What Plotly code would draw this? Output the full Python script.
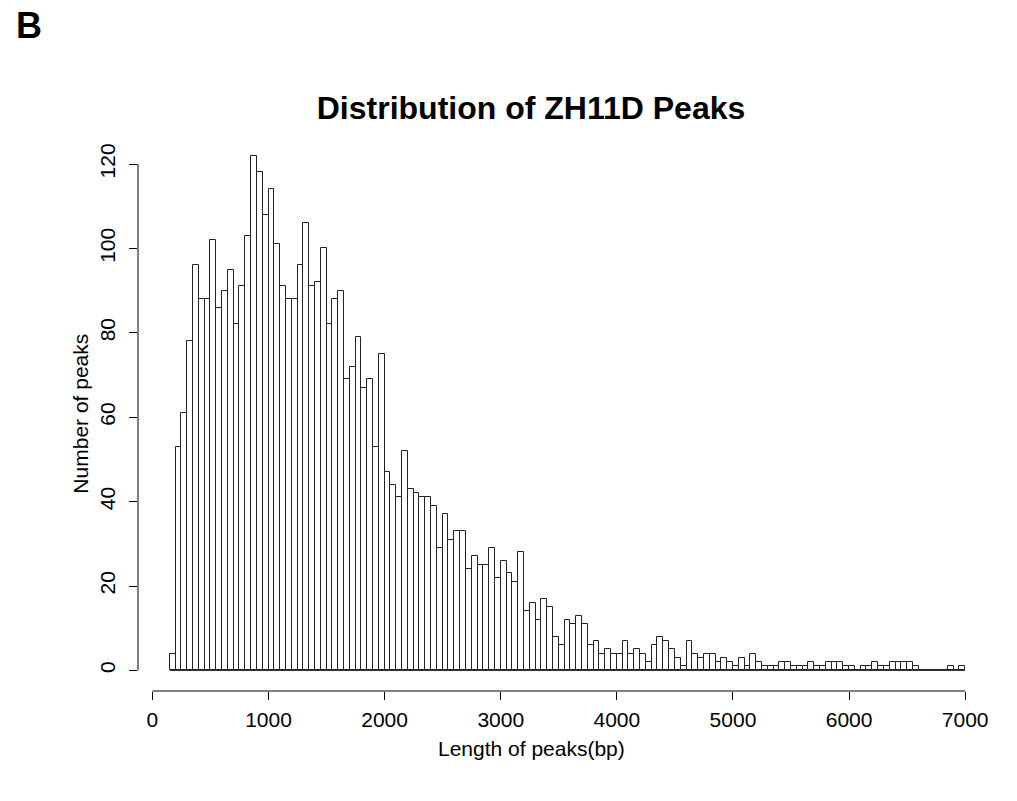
import plotly.graph_objects as go

# ---- data ----
bin_start = 150
bin_width = 50
counts = [4, 53, 61, 78, 96, 88, 88, 102, 86, 90,
          95, 82, 91, 103, 122, 118, 108, 114, 101, 91,
          88, 88, 96, 106, 91, 92, 100, 82, 88, 90,
          69, 72, 79, 67, 69, 53, 75, 47, 44, 41,
          52, 43, 42, 41, 41, 39, 29, 37, 31, 33,
          33, 24, 27, 25, 25, 29, 22, 26, 23, 21,
          28, 14, 16, 12, 17, 15, 8, 6, 12, 11,
          13, 11, 6, 7, 4, 5, 4, 4, 7, 4,
          5, 4, 2, 6, 8, 7, 5, 3, 1, 7,
          4, 3, 4, 4, 2, 3, 2, 1, 3, 1,
          4, 2, 1, 1, 1, 2, 2, 1, 1, 1,
          2, 1, 1, 2, 2, 2, 1, 1, 0, 1,
          1, 2, 1, 1, 2, 2, 2, 2, 1, 0,
          0, 0, 0, 0, 1, 0, 1]
x_ticks = [0, 1000, 2000, 3000, 4000, 5000, 6000, 7000]
y_ticks = [0, 20, 40, 60, 80, 100, 120]

title_text = "Distribution of ZH11D Peaks"
x_label = "Length of peaks(bp)"
y_label = "Number of peaks"
panel_label = "B"

centers = [bin_start + bin_width * (i + 0.5) for i in range(len(counts))]
edges_lo = bin_start
edges_hi = bin_start + bin_width * len(counts)

x_range = [edges_lo - 0.04 * (edges_hi - edges_lo), edges_hi + 0.04 * (edges_hi - edges_lo)]
y_range = [-0.04 * max(counts), max(counts) * 1.04]

W, H = 1017, 801
ml, mr, mt, mb = 137.6, 20, 135, 110.4
pw = W - ml - mr
ph = H - mt - mb

def px_to_paper_x(px):
    return (px - ml) / pw

def px_to_paper_y(py):
    return (H - mb - py) / ph

font_family = "Liberation Sans, Arial, sans-serif"
bar_line = "#222222"

fig = go.Figure()
# baseline of the histogram (zero-count bins drawn as flat segments, as in R)
fig.add_trace(go.Scatter(
    x=[edges_lo, edges_hi], y=[0, 0], mode="lines",
    line=dict(color=bar_line, width=1), hoverinfo="skip",
))
fig.add_trace(go.Bar(
    x=centers, y=counts, width=bin_width,
    marker=dict(color="white", line=dict(color=bar_line, width=1)),
    hoverinfo="x+y",
))

fig.update_layout(
    width=W, height=H,
    margin=dict(l=ml, r=mr, t=mt, b=mb, pad=0),
    paper_bgcolor="white", plot_bgcolor="white",
    showlegend=False, bargap=0,
    font=dict(family=font_family, color="black", size=21),
    title=dict(text="<b>" + title_text + "</b>", x=531 / W, xref="container",
               xanchor="center", y=1 - 108 / H, yref="container", yanchor="middle",
               font=dict(size=32, family=font_family, color="black")),
    xaxis=dict(range=x_range, showgrid=False, zeroline=False, showline=False,
               tickmode="array", tickvals=x_ticks, ticks="outside", ticklen=8,
               tickcolor="black", tickwidth=1, tickfont=dict(size=21),
               ticklabelstandoff=2),
    yaxis=dict(range=y_range, showgrid=False, zeroline=False, showline=False,
               tickmode="array", tickvals=y_ticks, ticks="outside", ticklen=8,
               tickcolor="black", tickwidth=1, tickangle=-90, tickfont=dict(size=21),
               ticklabelstandoff=6),
    shapes=[
        dict(type="line", xref="x", yref="paper", x0=x_ticks[0], x1=x_ticks[-1],
             y0=0, y1=0, line=dict(color="black", width=1)),
        dict(type="line", xref="paper", yref="y", x0=0, x1=0,
             y0=y_ticks[0], y1=y_ticks[-1], line=dict(color="black", width=1)),
    ],
    annotations=[
        dict(text=x_label, xref="paper", yref="paper", x=px_to_paper_x(531),
             y=px_to_paper_y(748), xanchor="center", yanchor="middle",
             showarrow=False, font=dict(size=21)),
        dict(text=y_label, xref="paper", yref="paper", x=px_to_paper_x(80),
             y=px_to_paper_y(413), xanchor="center", yanchor="middle",
             textangle=-90, showarrow=False, font=dict(size=21)),
        dict(text="<b>" + panel_label + "</b>", xref="paper", yref="paper",
             x=px_to_paper_x(14), y=px_to_paper_y(26), xanchor="left",
             yanchor="middle", showarrow=False, font=dict(size=36)),
    ],
)

fig.write_html("out.html")
